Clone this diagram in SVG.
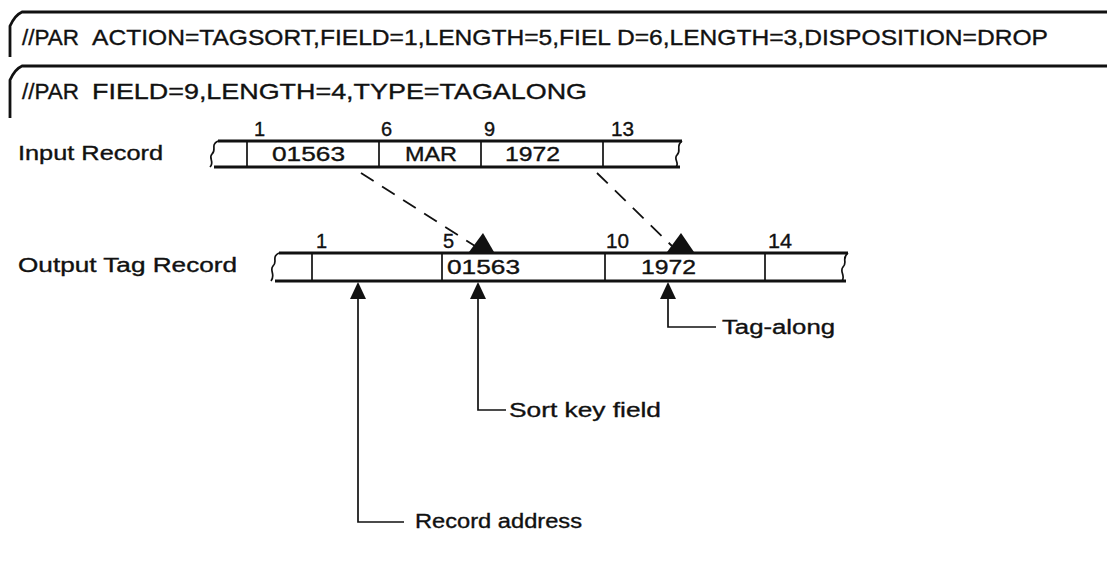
<svg xmlns="http://www.w3.org/2000/svg" width="1107" height="563" viewBox="0 0 1107 563">
<style>
.t{font-family:"Liberation Sans",Arial,sans-serif;fill:#111;stroke:#111;stroke-width:0.35;}
.big{font-size:22px;}
.lab{font-size:20px;}
.num{font-size:20px;}
.thick{fill:none;stroke:#111;stroke-width:2.8;}
.thin{fill:none;stroke:#111;stroke-width:1.7;}
.dash{fill:none;stroke:#111;stroke-width:1.8;stroke-dasharray:15 10;}
.ah{fill:#111;}
</style>
<rect width="1107" height="563" fill="#fff"/>
<g id="card1">
<path class="thick" d="M1107,12 H22 Q15,15 10,26 V57"/>
<text class="t big" x="22" y="45" textLength="57" lengthAdjust="spacingAndGlyphs">//PAR</text>
<text class="t big" x="92" y="45" textLength="956" lengthAdjust="spacingAndGlyphs">ACTION=TAGSORT,FIELD=1,LENGTH=5,FIEL D=6,LENGTH=3,DISPOSITION=DROP</text>
</g>
<g id="card2">
<path class="thick" d="M1107,66 H22 Q15,69 10,80 V118"/>
<text class="t big" x="22" y="99" textLength="57" lengthAdjust="spacingAndGlyphs">//PAR</text>
<text class="t big" x="92" y="99" textLength="495" lengthAdjust="spacingAndGlyphs">FIELD=9,LENGTH=4,TYPE=TAGALONG</text>
</g>
<g id="input-record">
<text class="t lab" x="18" y="160" textLength="145" lengthAdjust="spacingAndGlyphs">Input Record</text>
<path class="thick" d="M218,141 H682 M214,167 H680"/>
<path class="thin" d="M218,141 C210,145 217,150 212,154 C208,158 215,162 210,167"/>
<path class="thin" d="M682,141 C675,146 682,151 677,155 C673,159 680,163 676,167"/>
<path class="thin" d="M247,141 V167 M379,141 V167 M481,141 V167 M603,141 V167"/>
<text class="t num" x="254" y="136">1</text>
<text class="t num" x="381" y="136">6</text>
<text class="t num" x="484" y="136">9</text>
<text class="t num" x="611" y="136" textLength="23" lengthAdjust="spacingAndGlyphs">13</text>
<text class="t lab" x="272" y="161" textLength="73" lengthAdjust="spacingAndGlyphs">01563</text>
<text class="t lab" x="405" y="161" textLength="52" lengthAdjust="spacingAndGlyphs">MAR</text>
<text class="t lab" x="505" y="161" textLength="55" lengthAdjust="spacingAndGlyphs">1972</text>
</g>
<g id="output-record">
<text class="t lab" x="18" y="272" textLength="219" lengthAdjust="spacingAndGlyphs">Output Tag Record</text>
<path class="thick" d="M279,253 H848 M275,281 H846"/>
<path class="thin" d="M279,253 C271,257 278,262 273,266 C269,270 276,275 271,281"/>
<path class="thin" d="M848,253 C841,258 848,263 843,267 C839,271 846,276 842,281"/>
<path class="thin" d="M312,253 V281 M442,253 V281 M605,253 V281 M765,253 V281"/>
<text class="t num" x="316" y="248">1</text>
<text class="t num" x="443" y="248">5</text>
<text class="t num" x="606" y="248" textLength="23" lengthAdjust="spacingAndGlyphs">10</text>
<text class="t num" x="768" y="248" textLength="24" lengthAdjust="spacingAndGlyphs">14</text>
<text class="t lab" x="447" y="274" textLength="73" lengthAdjust="spacingAndGlyphs">01563</text>
<text class="t lab" x="641" y="274" textLength="55" lengthAdjust="spacingAndGlyphs">1972</text>
</g>
<g id="labels">
<text class="t lab" x="722" y="334" textLength="113" lengthAdjust="spacingAndGlyphs">Tag-along</text>
<text class="t lab" x="509" y="417" textLength="152" lengthAdjust="spacingAndGlyphs">Sort key field</text>
<text class="t lab" x="415" y="528" textLength="167" lengthAdjust="spacingAndGlyphs">Record address</text>
</g>
<g id="connectors">
<path class="dash" d="M361,173 L475,246"/>
<polygon class="ah" points="483,233 469,252 494,252"/>
<path class="dash" d="M597,173 L672,246"/>
<polygon class="ah" points="681,233 667,252 694,252"/>
<path class="thin" d="M668,298 V327 H716"/>
<polygon class="ah" points="668,282 660,299 676,299"/>
<path class="thin" d="M478,298 V410 H506"/>
<polygon class="ah" points="478,282 470,299 486,299"/>
<path class="thin" d="M358,298 V522 H404"/>
<polygon class="ah" points="358,282 350,299 366,299"/>
</g>
</svg>
